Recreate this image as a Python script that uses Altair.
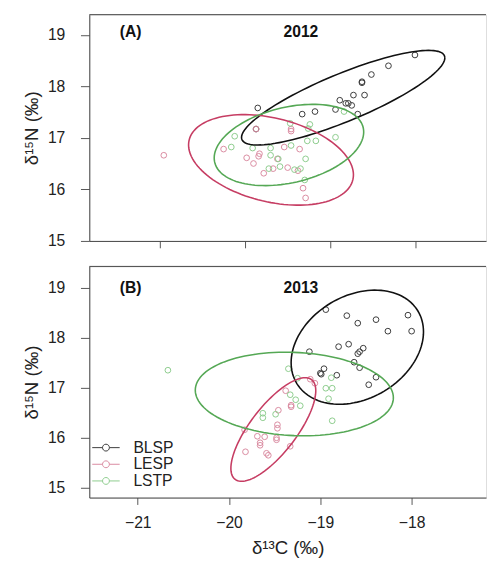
import altair as alt
import numpy as np
import pandas as pd

SPECIES = ["BLSP", "LESP", "LSTP"]

# ---- 2012 (panel A) ----
A_BLSP_x = [-18.01, -18.32, -18.52, -18.63, -18.63, -18.60, -18.73, -18.89, -18.82, -18.79, -18.75, -18.68, -18.94, -19.18, -19.33, -19.85, -19.87]
A_BLSP_y = [18.61, 18.40, 18.23, 18.09, 18.07, 17.83, 17.83, 17.73, 17.67, 17.67, 17.63, 17.46, 17.55, 17.51, 17.46, 17.58, 17.17]
A_LESP_x = [-20.95, -20.25, -19.87, -19.83, -19.84, -19.98, -19.90, -19.78, -19.54, -19.46, -19.46, -19.36, -19.62, -19.32, -19.29, -19.50, -19.38, -19.67]
A_LESP_y = [16.66, 16.78, 17.17, 16.69, 16.64, 16.61, 16.50, 16.31, 16.82, 17.17, 17.13, 16.78, 16.59, 16.02, 15.83, 16.42, 16.36, 16.40]
A_LSTP_x = [-20.12, -20.16, -19.91, -19.70, -19.70, -19.61, -19.72, -19.47, -19.24, -19.26, -19.27, -19.17, -18.94, -18.84, -19.46, -19.29, -19.30, -19.59, -19.35, -19.42]
A_LSTP_y = [17.03, 16.82, 16.80, 16.80, 16.66, 16.59, 16.40, 17.28, 17.26, 17.18, 16.94, 16.94, 17.01, 17.51, 16.85, 16.59, 16.18, 16.44, 16.40, 16.38]

# ---- 2013 (panel B) ----
B_BLSP_x = [-18.94, -18.71, -18.59, -18.39, -18.04, -18.26, -18.00, -19.12, -18.80, -18.69, -18.53, -18.57, -18.59, -18.63, -18.57, -18.96, -19.00, -18.99, -18.82, -18.47, -18.39]
B_BLSP_y = [18.56, 18.44, 18.29, 18.36, 18.45, 18.13, 18.13, 17.72, 17.82, 17.87, 17.79, 17.72, 17.68, 17.51, 17.40, 17.38, 17.29, 17.27, 17.25, 17.06, 17.21]
B_LESP_x = [-19.82, -19.69, -19.61, -19.66, -19.66, -19.59, -19.57, -19.48, -19.48, -19.47, -19.47, -19.46, -19.32, -19.32, -19.33, -19.83, -19.38, -19.11, -19.06]
B_LESP_y = [15.72, 16.03, 16.02, 15.90, 15.85, 15.69, 15.65, 16.00, 15.96, 16.26, 16.19, 16.55, 16.62, 16.65, 15.83, 16.16, 16.94, 17.17, 17.09]
B_LSTP_x = [-20.67, -19.35, -19.25, -19.27, -19.22, -19.63, -19.63, -19.49, -18.88, -18.94, -18.87, -18.91, -18.87, -19.33]
B_LSTP_y = [17.35, 17.38, 17.19, 16.76, 16.64, 16.49, 16.40, 16.47, 17.20, 16.99, 16.99, 16.78, 16.34, 16.86]

# ---- ellipses: centre, half-extent in x / y, tilt ----
ELL_panel = ["A", "A", "A", "B", "B", "B"]
ELL_species = SPECIES * 2
ELL_cx = [-18.85, -19.695, -19.485, -18.595, -19.515, -19.285]
ELL_cy = [17.78, 16.57, 16.86, 17.81, 16.165, 16.875]
ELL_rx = [1.19, 0.965, 0.875, 0.725, 0.465, 1.085]
ELL_ry = [0.92, 0.88, 0.79, 1.14, 1.035, 0.835]
ELL_rho = [0.84, -0.33, 0.32, 0.27, 0.75, -0.09]

PANEL_LABELS = ["(A)", "(B)"]
PANEL_YEARS = ["2012", "2013"]
X_TICKS = [-21, -20, -19, -18]
Y_TICKS = [15, 16, 17, 18, 19]

POINT_COLORS = ["#3a3a3a", "#d98aa0", "#8ccc8c"]
ELL_COLORS = ["#111111", "#c63d63", "#55a855"]
FRAME = "#444444"
FONT = "Liberation Sans"
W = 405


def points_df(xs, ys):
    rows = []
    for sp, x, y in zip(SPECIES, xs, ys):
        for a, b in zip(x, y):
            rows.append({"species": sp, "d13C": a, "d15N": b})
    return pd.DataFrame(rows)


def ellipse_df(panel):
    rows = []
    t = np.linspace(0, 2 * np.pi, 121)
    for p, sp, cx, cy, rx, ry, rho in zip(ELL_panel, ELL_species, ELL_cx, ELL_cy, ELL_rx, ELL_ry, ELL_rho):
        if p != panel:
            continue
        d = np.arccos(rho)
        for i, tt in enumerate(t):
            rows.append({"grp": sp, "i": i,
                         "d13C": cx + rx * np.cos(tt),
                         "d15N": cy + ry * np.cos(tt - d)})
    return pd.DataFrame(rows)


# legend glyph: line with an open circle in the middle (R style "-o-")
LEG_PATH = ("M-2,0L-0.5,0M0.5,0L2,0"
            "M-0.5,0A0.5,0.5,0,1,1,0.5,0A0.5,0.5,0,1,1,-0.5,0")


def panel(idx, pts, xdom, ydom, height, bottom, label_y):
    pname = "AB"[idx]
    xaxis_kw = dict(values=X_TICKS, tickSize=7, tickColor="#555", domain=True,
                    domainColor=FRAME, grid=False, labelFont=FONT, labelFontSize=16,
                    labelColor="#222", labelPadding=11, titleFont=FONT, titleFontSize=19,
                    titleFontWeight="normal", titleColor="#222", titlePadding=8)
    if bottom:
        xaxis = alt.Axis(title="δ¹³C (‰)", **xaxis_kw)
    else:
        xaxis = alt.Axis(title=None, labels=False, **xaxis_kw)
    yaxis = alt.Axis(values=Y_TICKS, tickSize=9, tickColor="#555", domain=True,
                     domainColor=FRAME, grid=False, labelFont=FONT, labelFontSize=16,
                     labelColor="#222", labelPadding=16, title="δ¹⁵N (‰)", titleFont=FONT,
                     titleFontSize=19, titleFontWeight="normal", titleColor="#222",
                     titlePadding=6)
    x = alt.X("d13C:Q", scale=alt.Scale(domain=xdom, nice=False, zero=False), axis=xaxis)
    y = alt.Y("d15N:Q", scale=alt.Scale(domain=ydom, nice=False, zero=False), axis=yaxis)

    ell = alt.Chart(ellipse_df(pname)).mark_line(strokeWidth=1.6, clip=True).encode(
        x=x, y=y,
        color=alt.Color("grp:N", scale=alt.Scale(domain=SPECIES, range=ELL_COLORS), legend=None),
        detail="grp:N",
        order="i:Q",
    )
    cscale = alt.Scale(domain=SPECIES, range=POINT_COLORS)
    if bottom:
        legend = alt.Legend(orient="none", legendX=9, legendY=177, title=None,
                            symbolType=LEG_PATH, symbolSize=196, symbolStrokeWidth=1,
                            symbolFillColor="transparent", labelFont=FONT,
                            labelFontSize=16, labelColor="#222", labelOffset=20,
                            rowPadding=1, padding=0)
        pcolor = alt.Color("species:N", scale=cscale, legend=legend)
    else:
        pcolor = alt.Color("species:N", scale=cscale, legend=None)
    pt = alt.Chart(pts).mark_point(shape="circle", filled=False, size=34, strokeWidth=1,
                                   opacity=1).encode(x=x, y=y, color=pcolor)

    lab_df = pd.DataFrame({"lab": [PANEL_LABELS[idx]], "yr": [PANEL_YEARS[idx]]})
    lab = alt.Chart(lab_df).mark_text(font=FONT, fontSize=16, fontWeight="bold",
                                      align="left", baseline="middle", color="#111").encode(
        x=alt.value(31), y=alt.value(label_y), text="lab:N")
    yr = alt.Chart(lab_df).mark_text(font=FONT, fontSize=16, fontWeight="bold",
                                     align="center", baseline="middle", color="#111").encode(
        x=alt.value(216), y=alt.value(label_y), text="yr:N")
    # top edge of the plot frame
    top = alt.Chart(lab_df).mark_rule(color=FRAME, strokeWidth=1).encode(
        x=alt.value(0), x2=alt.value(W), y=alt.value(0))

    return alt.layer(pt, ell, lab, yr, top).resolve_scale(color="independent").properties(
        width=W, height=height)


ptsA = points_df([A_BLSP_x, A_LESP_x, A_LSTP_x], [A_BLSP_y, A_LESP_y, A_LSTP_y])
ptsB = points_df([B_BLSP_x, B_LESP_x, B_LSTP_x], [B_BLSP_y, B_LESP_y, B_LSTP_y])

pA = panel(0, ptsA, [-21.822, -17.178], [14.994, 19.394], 231, False, 18)
pB = panel(1, ptsB, [-21.531, -17.185], [14.805, 19.424], 236, True, 22)

chart = alt.vconcat(pA, pB, spacing=16).resolve_scale(color="independent").properties(
    padding={"left": 14, "top": 0, "right": 0, "bottom": 0}
).configure_view(stroke=None).configure(background="white")

chart.save("out.html", embed_options={"renderer": "svg", "actions": False})
